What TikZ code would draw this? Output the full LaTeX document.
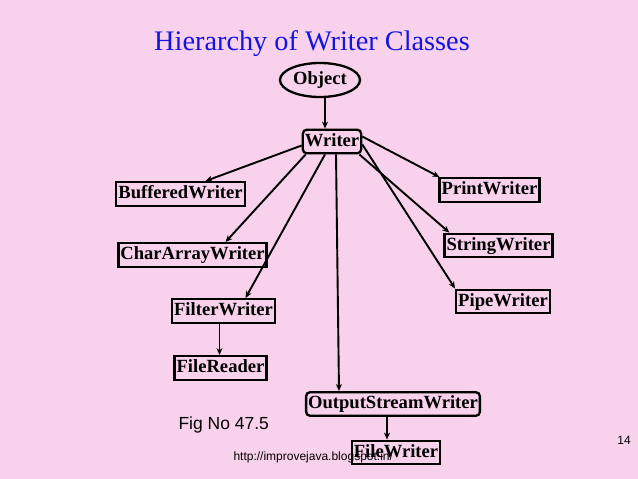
\documentclass[tikz,border=0pt]{standalone}
\usepackage{fontspec}
\setmainfont{Liberation Serif}
\setsansfont{Liberation Sans}
\usetikzlibrary{shapes.geometric,arrows.meta}
\definecolor{bgpink}{HTML}{F8D2EC}
\definecolor{titleblue}{RGB}{20,20,225}
\tikzset{
  cls/.style={draw=black, line width=2.3pt, font=\fontsize{18.6}{20}\selectfont\bfseries,
    inner xsep=2pt, inner ysep=3.3pt, text height=13pt, text depth=4pt},
  rcls/.style={cls, rounded corners=4pt},
  arr/.style={line width=1.9pt, -{Stealth[length=7pt,width=6pt]}},
}
\begin{document}
\begin{tikzpicture}[x=1pt,y=-1pt]
\fill[bgpink] (0,0) rectangle (638,479);
\useasboundingbox (0,0) rectangle (638,479);

\node[text=titleblue, font=\fontsize{28.3}{30}\selectfont] (title) at (312,44) {Hierarchy of Writer Classes};

\node[ellipse, draw, line width=2.3pt, minimum width=80pt, minimum height=34pt, inner sep=0pt,
  font=\fontsize{18.6}{20}\selectfont\bfseries] (obj) at (320,80) {Object};
\node[rcls] (writer) at (332,141.5) {Writer};
\node[cls] (buff) at (180.5,194) {BufferedWriter};
\node[cls] (print) at (489.5,190) {PrintWriter};
\node[cls] (char) at (192.5,255) {CharArrayWriter};
\node[cls] (string) at (498.5,245.5) {StringWriter};
\node[cls] (filter) at (223.5,311) {FilterWriter};
\node[cls] (pipe) at (503,301.5) {PipeWriter};
\node[cls] (frd) at (220.5,368) {FileReader};
\node[rcls] (osw) at (393,404) {OutputStreamWriter};

\node[font=\sffamily\fontsize{12}{14}\selectfont, anchor=west] (url) at (230,457) {http://improvejava.blogspot.in/};
\node[cls] (fw) at (396,452.5) {FileWriter};

\node[font=\sffamily\fontsize{17.5}{20}\selectfont, anchor=west] (fig) at (175,425) {Fig No 47.5};
\node[font=\sffamily\fontsize{12}{14}\selectfont] (num) at (624,440) {14};

\draw[arr] ([xshift=5pt]obj.south) -- ([xshift=-7pt]writer.north);
\draw[arr] ([yshift=-4pt]writer.west) -- ([xshift=25pt]buff.north);
\draw[arr] ([xshift=4pt]writer.south west) -- ([xshift=33pt]char.north);
\draw[arr] ([xshift=-7pt]writer.south) -- ([xshift=22pt]filter.north);
\draw[arr] ([xshift=4pt]writer.south) -- ([xshift=-54pt]osw.north);
\draw[arr] ([xshift=-3pt]writer.south east) -- ([xshift=6pt]string.north west);
\draw[arr] ([yshift=-3pt]writer.east) -- (pipe.north west);
\draw[arr] ([yshift=-8pt]writer.north east) -- ([xshift=1pt]print.north west);
\draw[arr] ([xshift=-4pt]filter.south) -- ([xshift=-4pt]filter.south |- frd.north);
\draw[arr] ([xshift=-6pt]osw.south) -- ([xshift=-6pt]osw.south |- fw.north);
\end{tikzpicture}
\end{document}
